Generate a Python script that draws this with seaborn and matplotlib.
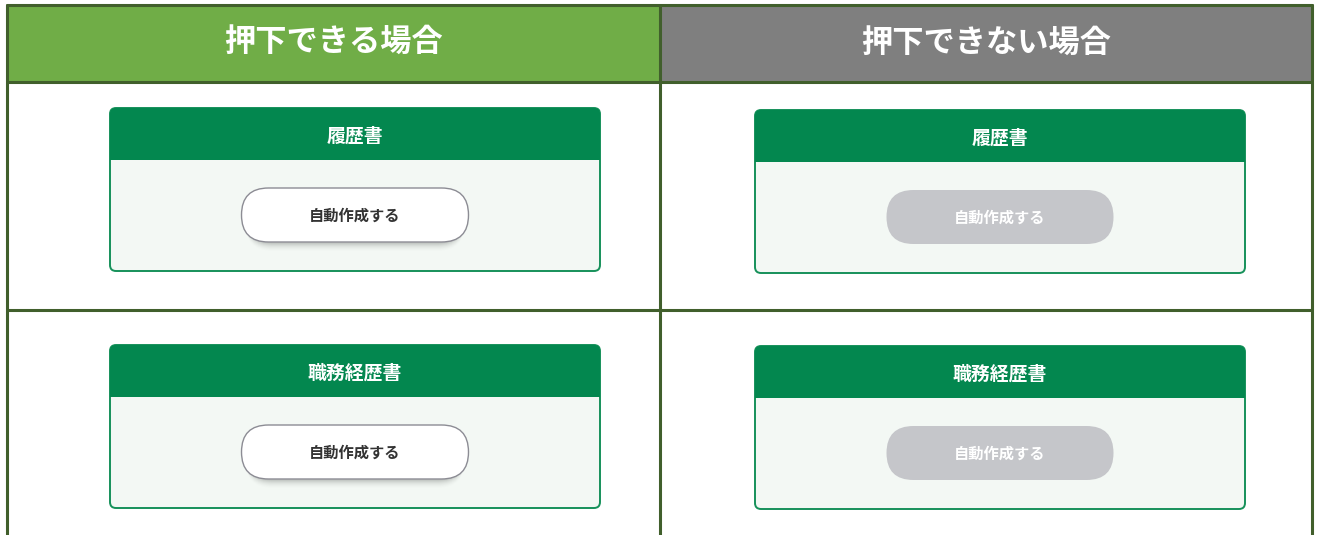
import numpy as np
import matplotlib.pyplot as plt
from matplotlib.patches import FancyBboxPatch, Rectangle
import seaborn as sns

# content of the table
column_titles = ["押下できる場合", "押下できない場合"]
column_colors = ["#70ad47", "#7f7f7f"]
card_titles = ["履歴書", "職務経歴書"]
button_label = "自動作成する"
button_enabled = [True, False]

sns.set_theme(style="white")
plt.rcParams['font.family'] = ['Noto Sans CJK JP', 'DejaVu Sans']

W, H = 1319, 535
fig = plt.figure(figsize=(W / 100, H / 100), dpi=100)
ax = fig.add_axes([0, 0, 1, 1])
ax.set_xlim(0, W)
ax.set_ylim(H, 0)
ax.axis('off')

# layout (pixels)
line_col = "#415f2c"
col_x = [7, 660, 1312]
top, head_bot, row_div = 5, 82, 310
card_left = [110, 755]
card_top = [[108, 345], [110, 346]]
card_w, card_h, card_head = 490, 163, 52
btn_w, btn_h = 227, 54
card_green = "#03874f"
card_body = "#f3f8f4"
card_edge = "#16915a"

# header cells
for i, (title, color) in enumerate(zip(column_titles, column_colors)):
    ax.add_patch(Rectangle((col_x[i], top), col_x[i + 1] - col_x[i], head_bot - top,
                           facecolor=color, edgecolor='none', zorder=1))
    ax.text((col_x[i] + col_x[i + 1]) / 2, 43 + i, title, color='white', fontsize=22.5,
            fontweight='bold', ha='center', va='center', zorder=3)

# table lines
lw = 2.2
ax.plot([col_x[0], col_x[2]], [top, top], color=line_col, lw=lw, zorder=4)
ax.plot([col_x[0], col_x[2]], [head_bot, head_bot], color=line_col, lw=lw, zorder=4)
ax.plot([col_x[0], col_x[2]], [row_div, row_div], color=line_col, lw=lw, zorder=4)
for x in col_x:
    ax.plot([x, x], [top, H + 5], color=line_col, lw=lw, zorder=4)


def pill(x, y, w, h, **kw):
    return FancyBboxPatch((x, y), w, h, boxstyle=f"round,pad=0,rounding_size={h / 2}", **kw)


for c, enabled in enumerate(button_enabled):
    for r, title in enumerate(card_titles):
        x0, y0 = card_left[c], card_top[c][r]
        # card body with border
        ax.add_patch(FancyBboxPatch((x0, y0), card_w, card_h,
                                    boxstyle="round,pad=0,rounding_size=6",
                                    facecolor=card_body, edgecolor=card_edge, lw=1.4, zorder=2))
        # card header
        ax.add_patch(FancyBboxPatch((x0, y0), card_w, card_head,
                                    boxstyle="round,pad=0,rounding_size=6",
                                    facecolor=card_green, edgecolor='none', zorder=3))
        ax.add_patch(Rectangle((x0, y0 + card_head / 2), card_w, card_head / 2,
                               facecolor=card_green, edgecolor='none', zorder=3))
        ax.text(x0 + card_w / 2, y0 + 28, title, color='white', fontsize=13.6,
                fontweight='bold', ha='center', va='center', zorder=4)

        bx = x0 + card_w / 2 - btn_w / 2
        by = y0 + 80
        if enabled:
            for k, a in zip(range(1, 9), [0.04, 0.035, 0.03, 0.025, 0.02, 0.015, 0.01, 0.008]):
                ax.add_patch(pill(bx + 4, by + k + 1, btn_w - 8, btn_h,
                                  facecolor='#000000', edgecolor='none', alpha=a, zorder=3))
            ax.add_patch(pill(bx, by, btn_w, btn_h, facecolor='white',
                              edgecolor='#8c8c94', lw=1.0, zorder=4))
            tcol = '#333333'
        else:
            ax.add_patch(pill(bx, by, btn_w, btn_h, facecolor='#c5c6ca',
                              edgecolor='none', zorder=4))
            tcol = 'white'
        ax.text(bx + btn_w / 2, by + btn_h / 2 + 1, button_label, color=tcol, fontsize=11,
                fontweight='bold', ha='center', va='center', zorder=5)

fig.savefig("out.png", dpi=100)
